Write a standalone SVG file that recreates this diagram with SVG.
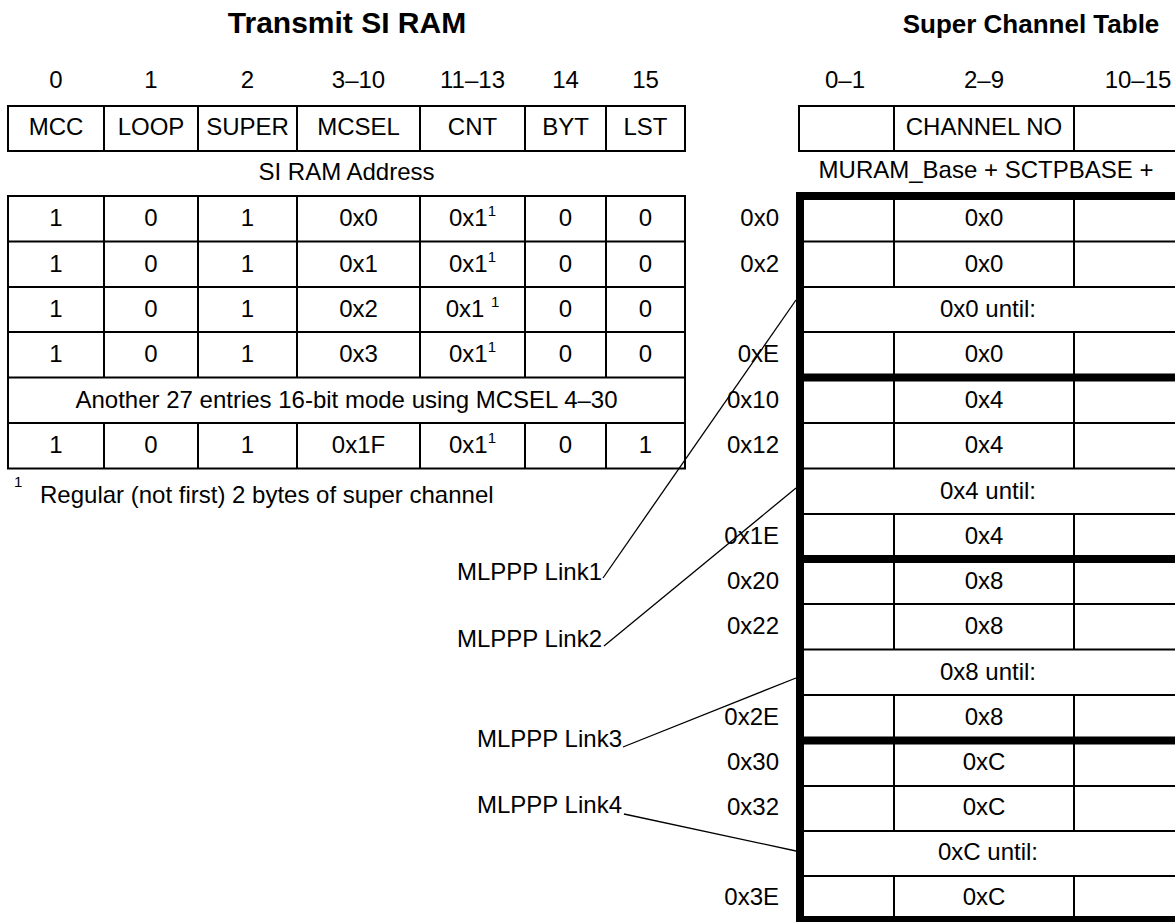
<svg xmlns="http://www.w3.org/2000/svg" width="1175" height="922" viewBox="0 0 1175 922">
<style>
text{font-family:"Liberation Sans",Arial,Helvetica,sans-serif;font-size:24px;fill:#000}
.t{font-weight:bold;font-size:30px;text-anchor:middle}
.t2{font-size:26px}
.c{text-anchor:middle}
.e{text-anchor:end}
.sup{font-size:15px}
.thin{stroke:#000;stroke-width:2;fill:none}
.thick{stroke:#000;stroke-width:8;fill:none}
.conn{stroke:#000;stroke-width:1.3;fill:none}
</style>
<rect width="1175" height="922" fill="#fff"/>

<g id="titles">
<text class="t" x="347" y="33">Transmit SI RAM</text>
<text class="t t2" x="1031" y="33">Super Channel Table</text>
</g>

<g id="si-ram-bits">
<text class="c" x="56" y="88">0</text>
<text class="c" x="151" y="88">1</text>
<text class="c" x="247.5" y="88">2</text>
<text class="c" x="358.5" y="88">3–10</text>
<text class="c" x="472.5" y="88">11–13</text>
<text class="c" x="565.5" y="88">14</text>
<text class="c" x="645.5" y="88">15</text>
</g>

<g id="si-ram-header">
<rect class="thin" x="8" y="106" width="677" height="45"/>
<path class="thin" d="M104 106V151M198 106V151M297 106V151M420 106V151M525 106V151M606 106V151"/>
<text class="c" x="56" y="135">MCC</text>
<text class="c" x="151" y="135">LOOP</text>
<text class="c" x="247.5" y="135">SUPER</text>
<text class="c" x="358.5" y="135">MCSEL</text>
<text class="c" x="472.5" y="135">CNT</text>
<text class="c" x="565.5" y="135">BYT</text>
<text class="c" x="645.5" y="135">LST</text>
</g>

<g id="si-ram-caption">
<text class="c" x="346.5" y="180">SI RAM Address</text>
</g>

<g id="si-ram-table">
<rect class="thin" x="8" y="196" width="677" height="272.5"/>
<path class="thin" d="M8 241.5H685M8 287H685M8 332H685M8 377.5H685M8 423H685"/>
<path class="thin" d="M104 196V377.5M198 196V377.5M297 196V377.5M420 196V377.5M525 196V377.5M606 196V377.5"/>
<path class="thin" d="M104 423V468.5M198 423V468.5M297 423V468.5M420 423V468.5M525 423V468.5M606 423V468.5"/>
<text class="c" x="56" y="226">1</text><text class="c" x="151" y="226">0</text><text class="c" x="247.5" y="226">1</text><text class="c" x="358.5" y="226">0x0</text><text class="c" x="472.5" y="226">0x1<tspan class="sup" dy="-10">1</tspan></text><text class="c" x="565.5" y="226">0</text><text class="c" x="645.5" y="226">0</text>
<text class="c" x="56" y="271.5">1</text><text class="c" x="151" y="271.5">0</text><text class="c" x="247.5" y="271.5">1</text><text class="c" x="358.5" y="271.5">0x1</text><text class="c" x="472.5" y="271.5">0x1<tspan class="sup" dy="-10">1</tspan></text><text class="c" x="565.5" y="271.5">0</text><text class="c" x="645.5" y="271.5">0</text>
<text class="c" x="56" y="317">1</text><text class="c" x="151" y="317">0</text><text class="c" x="247.5" y="317">1</text><text class="c" x="358.5" y="317">0x2</text><text class="c" x="472.5" y="317">0x1&#160;<tspan class="sup" dy="-10">1</tspan></text><text class="c" x="565.5" y="317">0</text><text class="c" x="645.5" y="317">0</text>
<text class="c" x="56" y="362">1</text><text class="c" x="151" y="362">0</text><text class="c" x="247.5" y="362">1</text><text class="c" x="358.5" y="362">0x3</text><text class="c" x="472.5" y="362">0x1<tspan class="sup" dy="-10">1</tspan></text><text class="c" x="565.5" y="362">0</text><text class="c" x="645.5" y="362">0</text>
<text class="c" x="346.5" y="407.5">Another 27 entries 16-bit mode using MCSEL 4–30</text>
<text class="c" x="56" y="453">1</text><text class="c" x="151" y="453">0</text><text class="c" x="247.5" y="453">1</text><text class="c" x="358.5" y="453">0x1F</text><text class="c" x="472.5" y="453">0x1<tspan class="sup" dy="-10">1</tspan></text><text class="c" x="565.5" y="453">0</text><text class="c" x="645.5" y="453">1</text>
</g>

<g id="footnote">
<text class="sup" x="14" y="487">1</text>
<text x="40" y="503">Regular (not first) 2 bytes of super channel</text>
</g>

<g id="sct-bits">
<text class="c" x="845" y="88">0–1</text>
<text class="c" x="984" y="88">2–9</text>
<text class="c" x="1138" y="88">10–15</text>
</g>

<g id="sct-header">
<path class="thin" d="M1180 106H799V151H1180M894 106V151M1074 106V151"/>
<text class="c" x="984" y="135">CHANNEL NO</text>
</g>

<g id="sct-caption">
<text class="c" x="986" y="178">MURAM_Base + SCTPBASE +</text>
</g>

<g id="sct-table">
<path class="thin" d="M796 241.5H1175M796 287H1175M796 332H1175M796 423H1175M796 468.5H1175M796 514H1175M796 604H1175M796 649.5H1175M796 695H1175M796 786H1175M796 831H1175M796 876H1175"/>
<path class="thin" d="M894 196V287M1074 196V287M894 332V468.5M1074 332V468.5M894 514V649.5M1074 514V649.5M894 695V831M1074 695V831M894 876V920M1074 876V920"/>
<path class="thick" d="M796 196H1175M796 377.5H1175M796 559H1175M796 740.5H1175M796 920H1175M800 192V922"/>
<text class="c" x="984" y="226">0x0</text>
<text class="c" x="984" y="271.5">0x0</text>
<text class="c" x="988" y="317">0x0 until:</text>
<text class="c" x="984" y="362">0x0</text>
<text class="c" x="984" y="408">0x4</text>
<text class="c" x="984" y="453">0x4</text>
<text class="c" x="988" y="498.5">0x4 until:</text>
<text class="c" x="984" y="544">0x4</text>
<text class="c" x="984" y="589">0x8</text>
<text class="c" x="984" y="634">0x8</text>
<text class="c" x="988" y="679.5">0x8 until:</text>
<text class="c" x="984" y="725">0x8</text>
<text class="c" x="984" y="770">0xC</text>
<text class="c" x="984" y="815">0xC</text>
<text class="c" x="988" y="860">0xC until:</text>
<text class="c" x="984" y="905">0xC</text>
</g>

<g id="sct-addresses">
<text class="e" x="779" y="226">0x0</text>
<text class="e" x="779" y="271.5">0x2</text>
<text class="e" x="779" y="362">0xE</text>
<text class="e" x="779" y="408">0x10</text>
<text class="e" x="779" y="453">0x12</text>
<text class="e" x="779" y="544">0x1E</text>
<text class="e" x="779" y="589">0x20</text>
<text class="e" x="779" y="634">0x22</text>
<text class="e" x="779" y="725">0x2E</text>
<text class="e" x="779" y="770">0x30</text>
<text class="e" x="779" y="815">0x32</text>
<text class="e" x="779" y="905">0x3E</text>
</g>

<g id="links">
<text class="e" x="602" y="580">MLPPP Link1</text>
<text class="e" x="602" y="647">MLPPP Link2</text>
<text class="e" x="622" y="747">MLPPP Link3</text>
<text class="e" x="622" y="813">MLPPP Link4</text>
</g>

<g id="connectors">
<line class="conn" x1="603" y1="578" x2="796" y2="300"/>
<line class="conn" x1="604" y1="646" x2="796" y2="488"/>
<line class="conn" x1="623" y1="747" x2="796" y2="678"/>
<line class="conn" x1="624" y1="814" x2="796" y2="851"/>
</g>
</svg>
